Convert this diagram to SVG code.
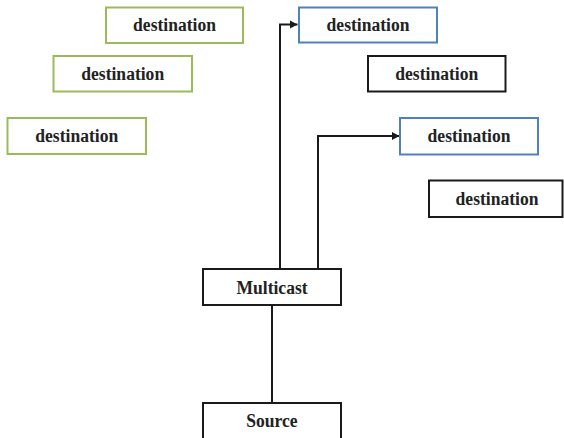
<svg xmlns="http://www.w3.org/2000/svg" width="564" height="438" viewBox="0 0 564 438">
  <style>
    .box { fill: #ffffff; stroke-width: 2; }
    .green { stroke: #9bbb59; }
    .blue { stroke: #4f81bd; }
    .black { stroke: #1a1a1a; }
    .label { font-family: "Liberation Serif", "Times New Roman", serif; font-weight: bold; font-size: 19.5px; fill: #222222; text-anchor: middle;
             transform-box: fill-box; transform-origin: center; transform: scaleX(0.9); }
    .wire { fill: none; stroke: #1a1a1a; stroke-width: 2; }
  </style>
  <defs>
    <marker id="arrow" markerWidth="9" markerHeight="10" refX="8" refY="5" orient="auto" markerUnits="userSpaceOnUse">
      <path d="M0,0.8 L8,5 L0,9.2 z" fill="#1a1a1a"/>
    </marker>
  </defs>
  <rect width="564" height="438" fill="#ffffff"/>

  <g id="connectors">
    <path class="wire" d="M280,269 V24.5 H297.5" marker-end="url(#arrow)"/>
    <path class="wire" d="M318,269 V136 H399.5" marker-end="url(#arrow)"/>
    <path class="wire" d="M272,305 V403"/>
  </g>

  <g id="dest-green-1">
    <rect class="box green" x="106" y="7.5" width="137" height="35.5"/>
    <text class="label" x="174.5" y="31.5">destination</text>
  </g>
  <g id="dest-green-2">
    <rect class="box green" x="53.5" y="56" width="138.5" height="35.5"/>
    <text class="label" x="122.7" y="80.5">destination</text>
  </g>
  <g id="dest-green-3">
    <rect class="box green" x="7.5" y="118" width="138.5" height="36"/>
    <text class="label" x="76.7" y="142.5">destination</text>
  </g>
  <g id="dest-blue-1">
    <rect class="box blue" x="299" y="7.5" width="138" height="35"/>
    <text class="label" x="368" y="31.5">destination</text>
  </g>
  <g id="dest-black-1">
    <rect class="box black" x="368" y="56" width="137.5" height="35.5"/>
    <text class="label" x="436.7" y="80.5">destination</text>
  </g>
  <g id="dest-blue-2">
    <rect class="box blue" x="400" y="118" width="138" height="36.5"/>
    <text class="label" x="469" y="142.5">destination</text>
  </g>
  <g id="dest-black-2">
    <rect class="box black" x="429" y="180.5" width="133.5" height="36.5"/>
    <text class="label" x="497" y="205">destination</text>
  </g>
  <g id="multicast">
    <rect class="box black" x="203" y="269" width="138" height="36"/>
    <text class="label" x="272" y="294">Multicast</text>
  </g>
  <g id="source">
    <rect class="box black" x="203" y="403" width="138" height="40"/>
    <text class="label" x="272" y="427">Source</text>
  </g>
</svg>
